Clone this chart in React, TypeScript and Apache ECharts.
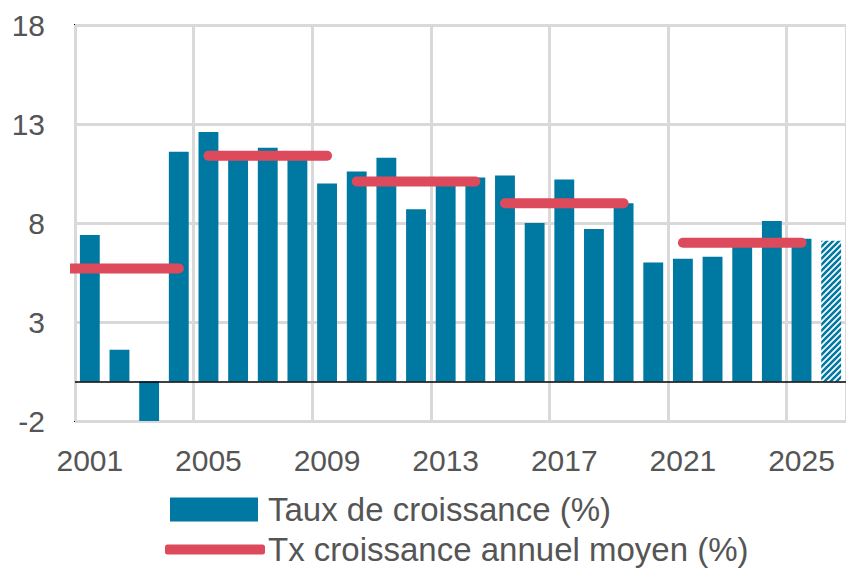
import React, { useEffect, useRef } from "react";
import * as echarts from "echarts";

const years = [
  "2001", "2002", "2003", "2004", "2005", "2006", "2007", "2008", "2009", "2010",
  "2011", "2012", "2013", "2014", "2015", "2016", "2017", "2018", "2019", "2020",
  "2021", "2022", "2023", "2024", "2025", "2026",
];
const growth = [
  7.4, 1.6, -2.0, 11.6, 12.6, 11.3, 11.8, 11.3, 10.0, 10.6,
  11.3, 8.7, 10.0, 10.3, 10.4, 8.0, 10.2, 7.7, 9.0, 6.0,
  6.2, 6.3, 6.9, 8.1, 7.2, 7.1,
];
const projectedYears = ["2026"];
const avgStart = [2000, 2005, 2010, 2015, 2021];
const avgEnd = [2004, 2009, 2014, 2019, 2025];
const avgValue = [5.7, 11.4, 10.1, 9.0, 7.0];
const yTicks = [-2, 3, 8, 13, 18];

const BAR_NAME = "Taux de croissance (%)";
const LINE_NAME = "Tx croissance annuel moyen (%)";
const TEAL = "#0079A2";
const RED = "#DD4A5C";
const TEXT = "#555555";
const GRIDC = "#D9D9D9";

function makeHatch(): HTMLCanvasElement {
  const s = 6;
  const c = document.createElement("canvas");
  c.width = s;
  c.height = s;
  const ctx = c.getContext("2d")!;
  ctx.fillStyle = "#ffffff";
  ctx.fillRect(0, 0, s, s);
  ctx.strokeStyle = TEAL;
  ctx.lineWidth = 2.6;
  ctx.beginPath();
  ctx.moveTo(-1, s + 1);
  ctx.lineTo(s + 1, -1);
  ctx.moveTo(-1, 1);
  ctx.lineTo(1, -1);
  ctx.moveTo(s - 1, s + 1);
  ctx.lineTo(s + 1, s - 1);
  ctx.stroke();
  return c;
}

export default function App() {
  const ref = useRef<HTMLDivElement>(null);
  useEffect(() => {
    if (!ref.current) return;
    const chart = echarts.init(ref.current, undefined, { renderer: "svg" });
    const hatch = makeHatch();
    const barData = years.map((y, i) =>
      projectedYears.includes(y)
        ? {
            value: growth[i],
            itemStyle: { color: { image: hatch, repeat: "repeat" } },
          }
        : growth[i]
    );
    const lineSeries = avgValue.map((v, i) => ({
      name: LINE_NAME,
      type: "line",
      xAxisIndex: 1,
      symbol: "none",
      data: [
        [avgStart[i], v],
        [avgEnd[i], v],
      ],
      lineStyle: { color: RED, width: 10, cap: "round" },
      itemStyle: { color: RED },
      z: 5,
      clip: true,
    }));
    const legendText = {
      fontFamily: "Liberation Sans",
      fontSize: 33,
      color: TEXT,
    };
    chart.setOption({
      animation: false,
      grid: {
        left: 75,
        top: 25,
        right: -2,
        bottom: 147,
        show: true,
        borderColor: "#000",
        borderWidth: 2,
        backgroundColor: "transparent",
      },
      legend: [
        {
          left: 170,
          top: 493,
          padding: 0,
          itemWidth: 88,
          itemHeight: 24,
          textStyle: { ...legendText, padding: [0, 0, 0, 5] },
          data: [{ name: BAR_NAME, icon: "rect" }],
        },
        {
          left: 165,
          top: 533,
          padding: 0,
          itemWidth: 100,
          itemHeight: 10,
          textStyle: { ...legendText, padding: [0, 0, 0, -2] },
          data: [{ name: LINE_NAME, icon: "roundRect", itemStyle: { color: RED } }],
        },
      ],
      xAxis: [
        {
          type: "category",
          data: years,
          boundaryGap: true,
          axisLine: { show: false },
          axisTick: { show: false },
          axisLabel: {
            interval: 3,
            margin: 24,
            fontFamily: "Liberation Sans",
            fontSize: 30,
            color: TEXT,
          },
          splitLine: {
            show: true,
            interval: 3,
            lineStyle: { color: GRIDC, width: 3 },
          },
        },
        {
          type: "value",
          min: 2000.5,
          max: 2026.5,
          show: false,
        },
      ],
      yAxis: {
        type: "value",
        min: yTicks[0],
        max: yTicks[yTicks.length - 1],
        interval: 5,
        axisLine: { show: false },
        axisTick: { show: false },
        axisLabel: {
          margin: 30,
          fontFamily: "Liberation Sans",
          fontSize: 30,
          color: TEXT,
        },
        splitLine: { show: true, lineStyle: { color: GRIDC, width: 3 } },
      },
      series: [
        {
          name: BAR_NAME,
          type: "bar",
          data: barData,
          barCategoryGap: "33%",
          itemStyle: { color: TEAL },
          z: 3,
          markLine: {
            silent: true,
            symbol: "none",
            label: { show: false },
            lineStyle: { color: "#000", width: 1.5, type: "solid" },
            data: [{ yAxis: 0 }],
          },
        },
        ...lineSeries,
      ],
    });
    return () => chart.dispose();
  }, []);
  return <div ref={ref} style={{ width: 846, height: 568, position: "absolute", left: 0, top: 0 }} />;
}
